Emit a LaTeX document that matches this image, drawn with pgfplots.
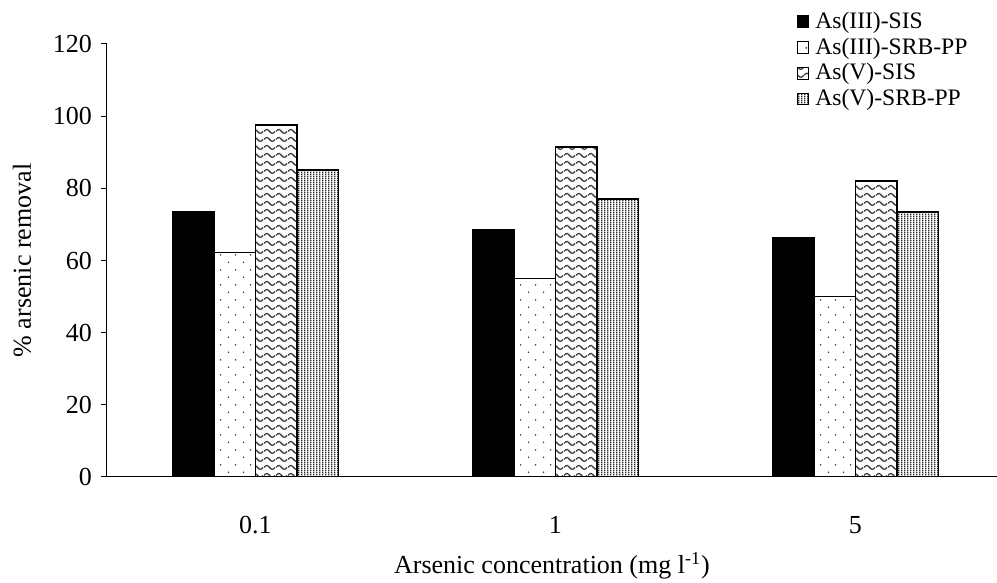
\documentclass[border=0pt]{standalone}
\usepackage{fontspec}
\setmainfont{Liberation Serif}
\usepackage{pgfplots}
\pgfplotsset{compat=1.18}
\usetikzlibrary{patterns,patterns.meta}

\tikzdeclarepattern{
  name=wavy, type=uncolored,
  bounding box={(0pt,0pt) and (6pt,4pt)},
  tile size={(6pt,4pt)},
  code={\draw[line width=0.7pt] (0pt,2pt) sin (1.5pt,3.1pt) cos (3pt,2pt) sin (4.5pt,0.9pt) cos (6pt,2pt);}
}
\tikzdeclarepattern{
  name=sparsedots, type=uncolored,
  bounding box={(0pt,0pt) and (7.5pt,7.7pt)},
  tile size={(7.5pt,7.7pt)},
  code={\fill (1.875pt,1.9pt) circle (0.45pt); \fill (5.625pt,5.75pt) circle (0.45pt);}
}
\tikzdeclarepattern{
  name=vlines, type=uncolored,
  bounding box={(0pt,0pt) and (1.7pt,1pt)},
  tile size={(1.7pt,1pt)},
  code={\fill (0pt,0pt) rectangle (0.8pt,1pt);}
}

\pgfplotstableread{
x y
-0.2075 73.4
0.7925 68.4
1.7925 66.2
}\sA
\pgfplotstableread{
x y
-0.0692 62.2
0.9308 55.0
1.9308 50.0
}\sB
\pgfplotstableread{
x y
0.0692 97.6
1.0692 91.5
2.0692 82.0
}\sC
\pgfplotstableread{
x y
0.2075 85.0
1.2075 77.1
2.2075 73.4
}\sD

\begin{document}
\begin{tikzpicture}
\path[use as bounding box] (-53.5pt,-53pt) rectangle (445pt,238.5pt);
\begin{axis}[
  scale only axis,
  width=445pt, height=216.5pt,
  ybar, bar width=0.1383, bar shift=0pt,
  xmin=-0.495, xmax=2.472,
  ymin=0, ymax=120,
  ytick={0,20,...,120},
  xtick={0,1,2},
  xticklabels={0.1,1,5},
  major x tick style={draw=none},
  extra x ticks={0.505,1.505},
  extra x tick labels={},
  extra x tick style={major tick length=3pt, tick style={draw=black, line width=0.5pt}},
  tick align=outside,
  major tick length=3pt,
  y tick style={black, line width=0.5pt},
  axis x line*=bottom, axis y line*=left,
  axis line style={line width=0.5pt, -},
  /pgf/number format/assume math mode=true,
  tick label style={font=\fontsize{13}{15}\selectfont},
  yticklabel style={xshift=-1pt},
  xticklabel style={yshift=-13pt},
  every axis x label/.style={at={(axis description cs:0.5,0)}, anchor=center, yshift=-44.5pt},
  every axis y label/.style={at={([xshift=-42.5pt]axis description cs:0,0.5)}, anchor=center, rotate=90},
  xlabel={Arsenic concentration (mg l\textsuperscript{-1})},
  ylabel={\% arsenic removal},
  label style={font=\fontsize{13}{15}\selectfont},
  legend style={at={(rel axis cs:0.7745,1.084)}, anchor=north west, draw=none, fill=none,
    font=\fontsize{11.8}{13}\selectfont, row sep=-0.8pt, inner sep=0pt,
    /tikz/every odd column/.append style={column sep=1pt}},
  legend cell align=left,
  legend image code/.code={\draw[#1, line width=0.5pt] (0pt,-2.9pt) rectangle (5.8pt,2.9pt);},
]
\addplot[draw=black, fill=black, line width=0.8pt] table[x=x,y=y] {\sA};
\addlegendentry{As(III)-SIS}
\addplot[draw=black, fill=white, postaction={pattern=sparsedots, pattern color=black!75}, line width=0.8pt] table[x=x,y=y] {\sB};
\addlegendentry{As(III)-SRB-PP}
\addplot[draw=black, fill=white, postaction={pattern=wavy, pattern color=black!75}, line width=0.8pt] table[x=x,y=y] {\sC};
\addlegendentry{As(V)-SIS}
\addplot[draw=black, fill=white, postaction={pattern=vlines, pattern color=black!85}, line width=0.8pt] table[x=x,y=y] {\sD};
\addlegendentry{As(V)-SRB-PP}
\end{axis}
\end{tikzpicture}
\end{document}
